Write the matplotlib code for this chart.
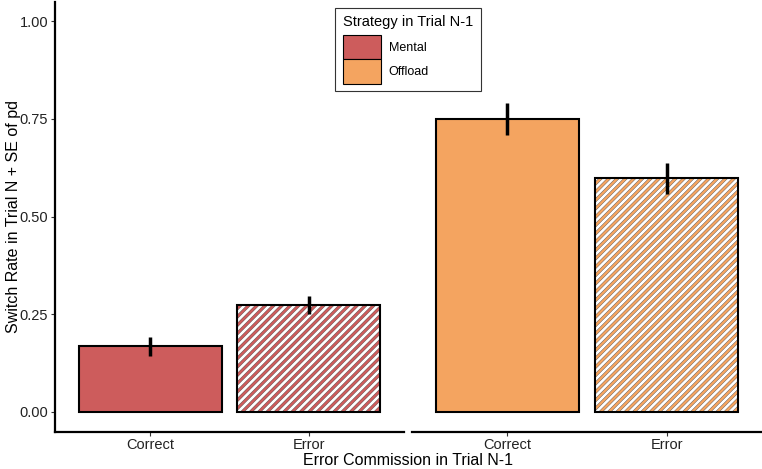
import matplotlib.pyplot as plt
from matplotlib.patches import Patch

plt.rcParams['font.family'] = ['Liberation Sans', 'DejaVu Sans']

# data
strategies = ['Mental', 'Offload']
outcomes = ['Correct', 'Error']
colors = {'Mental': '#CD5C5C', 'Offload': '#F4A460'}
switch_rate = {'Mental': [0.168, 0.274], 'Offload': [0.749, 0.598]}
switch_se = {'Mental': [0.024, 0.023], 'Offload': [0.041, 0.040]}

W, H = 762, 469
fig = plt.figure(figsize=(W / 100, H / 100), dpi=100)

def px_axes(x0, y0, x1, y1):
    return fig.add_axes([x0 / W, 1 - y1 / H, (x1 - x0) / W, (y1 - y0) / H])

def hatched_bar(ax, x, h, color):
    ax.bar(x, h, 0.9, color=color, linewidth=0)
    for col, lw in [('#404040', 2.4), ('white', 1.95)]:
        b = ax.bar(x, h, 0.9, color='none', edgecolor=col, hatch='////', linewidth=0)
        for p in b:
            p.set_hatch_linewidth(lw)
    ax.bar(x, h, 0.9, color='none', edgecolor='black', linewidth=1.5)

panels = [px_axes(55, 1.5, 404, 431.5), px_axes(412, 1.5, 762, 431.5)]

for ax, strat in zip(panels, strategies):
    pos = [1, 2]
    ax.bar(pos[0], switch_rate[strat][0], 0.9, color=colors[strat],
           edgecolor='black', linewidth=1.5)
    hatched_bar(ax, pos[1], switch_rate[strat][1], colors[strat])
    ax.errorbar(pos, switch_rate[strat], yerr=switch_se[strat], fmt='none',
                ecolor='black', elinewidth=2.5, capsize=0)
    ax.set_xlim(0.4, 2.6)
    ax.set_ylim(-0.05, 1.05)
    ax.set_xticks(pos)
    ax.set_xticklabels(outcomes, fontsize=10.5, color='#222222')
    for s in ['top', 'right']:
        ax.spines[s].set_visible(False)
    ax.spines['bottom'].set_linewidth(1.6)
    ax.spines['left'].set_linewidth(1.6)
    ax.tick_params(axis='both', length=3, width=0.8, color='#333333', pad=2)

panels[0].set_yticks([0, 0.25, 0.5, 0.75, 1.0])
panels[0].set_yticklabels(['0.00', '0.25', '0.50', '0.75', '1.00'], fontsize=10.5, color='#222222')
panels[1].spines['left'].set_visible(False)
panels[1].set_yticks([])

fig.text(14 / W, 1 - 216 / H, 'Switch Rate in Trial N + SE of pd', rotation=90,
         ha='center', va='center', fontsize=11.5)
fig.text(408 / W, 1 - 460 / H, 'Error Commission in Trial N-1',
         ha='center', va='center', fontsize=11.5)

handles = [Patch(facecolor=colors[s], edgecolor='black', linewidth=0.8) for s in strategies]
leg = fig.legend(handles, strategies, title='Strategy in Trial N-1',
                 loc='upper center', bbox_to_anchor=(408 / W, 1 - 8 / H),
                 fontsize=9, title_fontsize=10.5, handlelength=3.05, handleheight=2.58,
                 labelspacing=0, fancybox=False, framealpha=1, edgecolor='#333333',
                 borderpad=0.6, handletextpad=0.6, borderaxespad=0)
leg._legend_box.align = 'left'
leg._legend_box.sep = 4.3
leg.get_frame().set_linewidth(0.8)

fig.savefig('out.png', dpi=100)
